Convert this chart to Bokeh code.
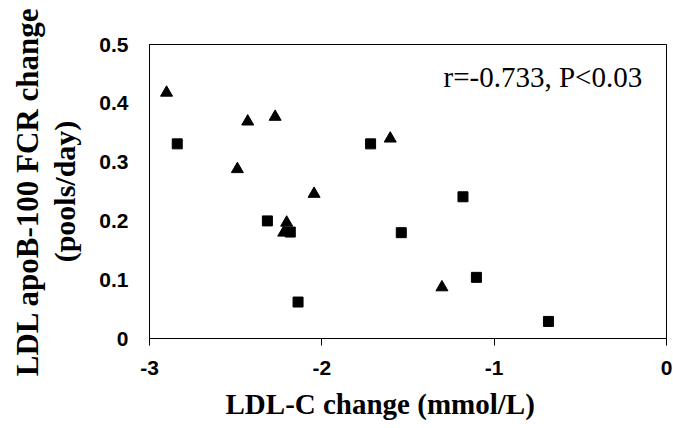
from bokeh.plotting import figure
from bokeh.models import Range1d, FixedTicker, Title, Label
from bokeh.embed import file_html
from bokeh.resources import INLINE

# ---- data ----
tri_x = [-2.901, -2.430, -2.271, -1.603, -2.490, -2.045, -2.204, -2.221, -1.303]
tri_y = [0.418, 0.369, 0.377, 0.340, 0.288, 0.246, 0.197, 0.180, 0.087]
sq_x = [-2.839, -1.717, -2.316, -2.183, -1.539, -2.138, -1.181, -1.103, -0.685]
sq_y = [0.331, 0.331, 0.200, 0.181, 0.180, 0.062, 0.241, 0.104, 0.029]

x_ticks = [-3, -2, -1, 0]
x_tick_labels = ["-3", "-2", "-1", "0"]
y_ticks = [0, 0.1, 0.2, 0.3, 0.4, 0.5]
y_tick_labels = ["0", "0.1", "0.2", "0.3", "0.4", "0.5"]

x_title = "LDL-C change (mmol/L)"
y_title_1 = "LDL apoB-100 FCR change"
y_title_2 = "(pools/day)"
annotation = "r=-0.733, P<0.03"
annotation_pos = (-1.294, 0.444)

SERIF = "Liberation Serif"
SANS = "Liberation Sans"

p = figure(width=673, height=428,
           x_range=Range1d(-3, 0), y_range=Range1d(0, 0.5),
           output_backend="svg", toolbar_location=None,
           min_border_left=149, min_border_right=7,
           min_border_top=44, min_border_bottom=90,
           background_fill_color="white", border_fill_color="white")

p.outline_line_color = "black"
p.outline_line_width = 1
p.grid.visible = False

# x axis
xa = p.xaxis[0]
xa.ticker = FixedTicker(ticks=x_ticks)
xa.major_label_overrides = dict(zip(x_ticks, x_tick_labels))
xa.minor_tick_line_color = None
xa.major_tick_in = 0
xa.major_tick_out = 7
xa.major_label_standoff = 15
xa.major_label_text_font = SANS
xa.major_label_text_font_style = "bold"
xa.major_label_text_font_size = "21px"
xa.major_label_text_color = "black"
xa.axis_line_color = "black"
xa.major_tick_line_color = "black"

# y axis
ya = p.yaxis[0]
ya.ticker = FixedTicker(ticks=y_ticks)
ya.major_label_overrides = dict(zip(y_ticks, y_tick_labels))
ya.minor_tick_line_color = None
ya.major_tick_in = 0
ya.major_tick_out = 0
ya.major_label_standoff = 21
ya.major_label_text_font = SANS
ya.major_label_text_font_style = "bold"
ya.major_label_text_font_size = "21px"
ya.major_label_text_color = "black"
ya.axis_line_color = "black"
ya.axis_label = y_title_2
ya.axis_label_text_font = SERIF
ya.axis_label_text_font_style = "bold"
ya.axis_label_text_font_size = "30px"
ya.axis_label_text_color = "black"
ya.axis_label_standoff = 15

p.add_layout(Title(text=y_title_1, align="center", text_font=SERIF,
                   text_font_style="bold", text_font_size="31px",
                   text_color="black", standoff=2), "left")

p.add_layout(Title(text=x_title, align="left", offset=76, text_font=SERIF,
                   text_font_style="bold", text_font_size="29px",
                   text_color="black", standoff=16), "below")

p.scatter(tri_x, tri_y, marker="triangle", size=12, color="black")
p.scatter(sq_x, sq_y, marker="square", size=10, color="black")

p.add_layout(Label(x=annotation_pos[0], y=annotation_pos[1], text=annotation,
                   text_font=SERIF, text_font_size="29px", text_color="black",
                   text_align="left", text_baseline="middle"))

open("out.html", "w").write(file_html(p, INLINE))
